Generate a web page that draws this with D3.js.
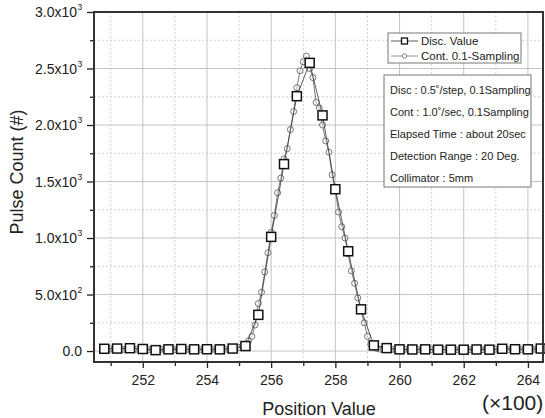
<!DOCTYPE html>
<html>
<head>
<meta charset="utf-8">
<script src="https://cdn.jsdelivr.net/npm/d3@7"></script>
<style>
  body { margin: 0; background: #fff; }
  text { font-family: "Liberation Sans", Arial, sans-serif; fill: #222; }
</style>
</head>
<body>
<script>
// chart size
const width = 545;
const height = 418;

// discrete scan (squares), position in units of x100
const discPos = d3.range(250.8, 264.41, 0.4).map(d => +d.toFixed(1));
const discVal = [20, 22, 25, 18, 8, 15, 18, 15, 16, 15,
  22, 44, 320, 1010, 1654, 2255, 2550, 2085, 1432, 883,
  369, 50, 26, 15, 14, 15, 12, 12, 12, 14,
  12, 20, 16, 15, 22];

// continuous scan (circles), 0.1 sampling
const contPos = d3.range(250.8, 264.41, 0.1).map(d => +d.toFixed(1));
const contVal = [
  15, 12, 18, 14, 16, 12, 15, 18, 14, 13,
  16, 12, 14, 17, 11, 13, 15, 12, 16, 14,
  13, 15, 12, 14, 16, 13, 15, 11, 14, 16,
  13, 12, 15, 14, 17, 13, 15, 14, 16, 15,
  18, 22, 32, 45, 62, 92, 130, 230, 420, 520,
  700, 870, 1050, 1200, 1400, 1530, 1700, 1790, 1960, 2120,
  2330, 2480, 2560, 2610, 2500, 2420, 2200, 2150, 2000, 1860,
  1760, 1560, 1420, 1230, 1100, 1000, 860, 710, 600, 470,
  360, 250, 130, 60, 35, 22, 16,
  14, 12, 13, 15, 11, 14, 12, 16, 13, 12,
  15, 13, 11, 14, 12, 13, 15, 12, 14, 13,
  12, 15, 13, 11, 14, 16, 13, 12, 15, 14,
  13, 12, 16, 14, 13, 15, 12, 14, 17, 13,
  15, 14, 16, 13, 15, 17, 14, 16, 15, 18];

// tick values
const xTicks = [252, 254, 256, 258, 260, 262, 264];
const xMinor = [251, 253, 255, 257, 259, 261, 263];
const yTicks = [0, 500, 1000, 1500, 2000, 2500, 3000];
const yMinor = [250, 750, 1250, 1750, 2250, 2750];
const yLabels = [['0.0', ''], ['5.0x10', '2'], ['1.0x10', '3'], ['1.5x10', '3'],
  ['2.0x10', '3'], ['2.5x10', '3'], ['3.0x10', '3']];

const legendItems = ['Disc. Value', 'Cont. 0.1-Sampling'];
const infoLines = ['Disc : 0.5\u02DA/step, 0.1Sampling', 'Cont : 1.0\u02DA/sec, 0.1Sampling',
  'Elapsed Time : about 20sec', 'Detection Range : 20 Deg.', 'Collimator : 5mm'];

const plot = { left: 94, right: 543, top: 12, bottom: 362 };

const svg = d3.select('body')
  .append('svg')
  .attr('width', width)
  .attr('height', height);

const x = d3.scaleLinear()
  .domain([250.48, 264.47])
  .range([plot.left, plot.right]);

const y = d3.scaleLinear()
  .domain([-97, 3000])
  .range([plot.bottom, plot.top]);

// grid lines
const grid = svg.append('g');
grid.selectAll('.gx').data(xTicks).enter().append('line')
  .attr('x1', d => x(d)).attr('x2', d => x(d))
  .attr('y1', plot.top).attr('y2', plot.bottom)
  .attr('stroke', '#c4c4c4').attr('stroke-width', 1);
grid.selectAll('.gxm').data(xMinor).enter().append('line')
  .attr('x1', d => x(d)).attr('x2', d => x(d))
  .attr('y1', plot.top).attr('y2', plot.bottom)
  .attr('stroke', '#d0d0d0').attr('stroke-width', 1).attr('stroke-dasharray', '2,2');
grid.selectAll('.gy').data(yTicks).enter().append('line')
  .attr('x1', plot.left).attr('x2', plot.right)
  .attr('y1', d => y(d)).attr('y2', d => y(d))
  .attr('stroke', '#c4c4c4').attr('stroke-width', 1);
grid.selectAll('.gym').data(yMinor).enter().append('line')
  .attr('x1', plot.left).attr('x2', plot.right)
  .attr('y1', d => y(d)).attr('y2', d => y(d))
  .attr('stroke', '#d0d0d0').attr('stroke-width', 1).attr('stroke-dasharray', '2,2');

// continuous series
const contData = contPos.map((p, i) => ({ p, v: contVal[i] }));
const line = d3.line().x(d => x(d.p)).y(d => y(d.v));
svg.append('path')
  .datum(contData)
  .attr('d', line)
  .attr('fill', 'none')
  .attr('stroke', '#555')
  .attr('stroke-width', 0.8);
svg.selectAll('.c').data(contData).enter().append('circle')
  .attr('cx', d => x(d.p)).attr('cy', d => y(d.v))
  .attr('r', 3)
  .attr('fill', '#fff').attr('fill-opacity', 0.5)
  .attr('stroke', '#666').attr('stroke-width', 0.9);

// discrete series
const discData = discPos.map((p, i) => ({ p, v: discVal[i] }));
svg.append('path')
  .datum(discData)
  .attr('d', line)
  .attr('fill', 'none')
  .attr('stroke', '#333')
  .attr('stroke-width', 0.8);
svg.selectAll('.s').data(discData).enter().append('rect')
  .attr('x', d => x(d.p) - 4.5).attr('y', d => y(d.v) - 4.5)
  .attr('width', 9).attr('height', 9)
  .attr('fill', '#fff')
  .attr('stroke', '#111').attr('stroke-width', 1.5);

// axes
const xAxis = svg.append('g')
  .attr('transform', `translate(0,${plot.bottom})`)
  .call(d3.axisBottom(x).tickValues(xTicks).tickSize(6).tickPadding(7).tickFormat(d3.format('d')));
svg.append('g')
  .attr('transform', `translate(0,${plot.bottom})`)
  .call(d3.axisBottom(x).tickValues(xMinor).tickSize(4).tickFormat(''))
  .call(g => g.select('.domain').remove());
xAxis.selectAll('text').attr('font-size', 14).attr('fill', '#222')
  .attr('font-family', '"Liberation Sans", Arial, sans-serif');

svg.append('g')
  .attr('transform', `translate(${plot.left},0)`)
  .call(d3.axisLeft(y).tickValues(yTicks).tickSize(7).tickFormat(''));
svg.append('g')
  .attr('transform', `translate(${plot.left},0)`)
  .call(d3.axisLeft(y).tickValues(yMinor).tickSize(4).tickFormat(''))
  .call(g => g.select('.domain').remove());
svg.selectAll('.domain').attr('stroke', 'none');
svg.selectAll('.tick line').attr('stroke', '#222').attr('stroke-width', 1.3);

// y tick labels with superscript exponent
const yl = svg.append('g');
yTicks.forEach((t, i) => {
  yl.append('text')
    .attr('x', yLabels[i][1] ? 77 : 82)
    .attr('y', y(t) + 5)
    .attr('text-anchor', 'end')
    .attr('font-size', 14)
    .text(yLabels[i][0]);
  if (yLabels[i][1]) {
    yl.append('text')
      .attr('x', 77.5)
      .attr('y', y(t) - 2)
      .attr('font-size', 8.5)
      .text(yLabels[i][1]);
  }
});

// plot frame
svg.append('rect')
  .attr('x', plot.left).attr('y', plot.top)
  .attr('width', plot.right - plot.left).attr('height', plot.bottom - plot.top)
  .attr('fill', 'none').attr('stroke', '#333').attr('stroke-width', 2);

// axis titles
svg.append('text')
  .attr('x', 319).attr('y', 415)
  .attr('text-anchor', 'middle')
  .attr('font-size', 18)
  .text('Position Value');
svg.append('text')
  .attr('transform', 'translate(23,172) rotate(-90)')
  .attr('text-anchor', 'middle')
  .attr('font-size', 18)
  .text('Pulse Count (#)');
svg.append('text')
  .attr('x', 482).attr('y', 410)
  .attr('font-family', '"Liberation Serif", "Times New Roman", serif')
  .attr('font-size', 21)
  .text('(\u00D7100)');

// legend box
const lg = svg.append('g');
lg.append('rect')
  .attr('x', 388).attr('y', 33).attr('width', 133).attr('height', 30)
  .attr('fill', '#fff').attr('stroke', '#777').attr('stroke-width', 1);
legendItems.forEach((name, i) => {
  const cy = 41 + i * 15;
  lg.append('line')
    .attr('x1', 391).attr('x2', 418).attr('y1', cy).attr('y2', cy)
    .attr('stroke', i === 0 ? '#333' : '#777').attr('stroke-width', 0.8);
  if (i === 0) {
    lg.append('rect').attr('x', 401.5).attr('y', cy - 3).attr('width', 6).attr('height', 6)
      .attr('fill', '#fff').attr('stroke', '#111').attr('stroke-width', 1.3);
  } else {
    lg.append('circle').attr('cx', 404.5).attr('cy', cy).attr('r', 2.2)
      .attr('fill', '#fff').attr('stroke', '#666').attr('stroke-width', 0.8);
  }
  lg.append('text')
    .attr('x', 421).attr('y', cy + 4)
    .attr('font-size', 11.5)
    .text(name);
});

// info box
const ib = svg.append('g');
ib.append('rect')
  .attr('x', 384).attr('y', 75).attr('width', 147).attr('height', 112)
  .attr('fill', '#fff').attr('stroke', '#777').attr('stroke-width', 1);
ib.selectAll('text').data(infoLines).enter().append('text')
  .attr('x', 390)
  .attr('y', (d, i) => 94 + i * 21.9)
  .attr('font-size', 11)
  .text(d => d);
</script>
</body>
</html>
